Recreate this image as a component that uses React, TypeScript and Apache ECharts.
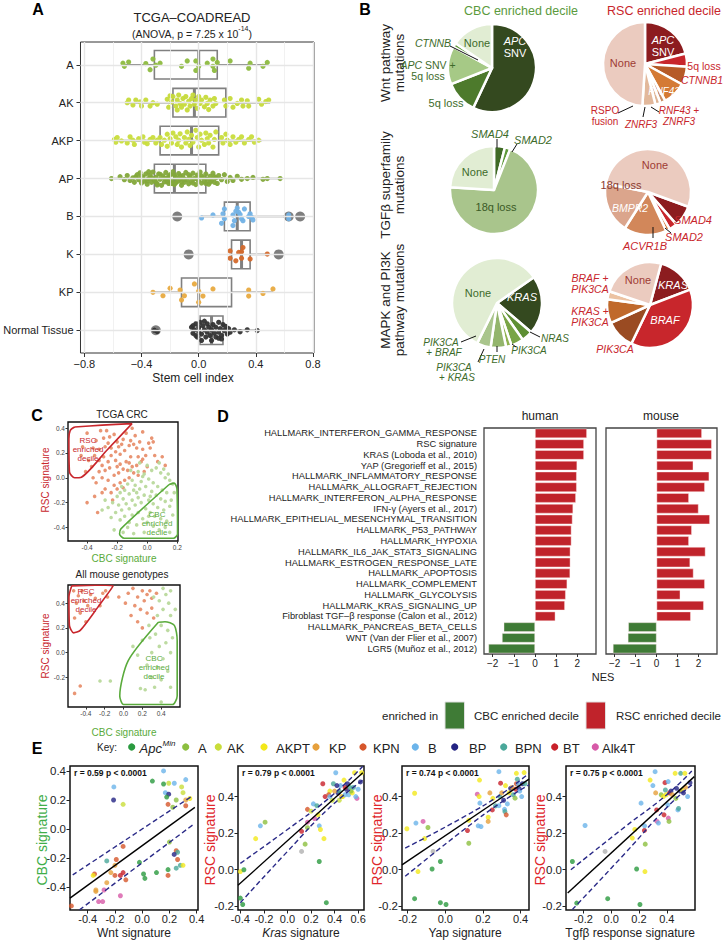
import { useEffect, useRef } from 'react';
import * as echarts from 'echarts';

const F = '"Liberation Sans", Arial, Helvetica, sans-serif';
const MINUS = '\u2212';

// ---------------- Panel A data ----------------
const groupsA = ['A', 'AK', 'AKP', 'AP', 'B', 'K', 'KP', 'Normal Tissue'];
const colorsA = ['#8dbb3f', '#c6da3a', '#c9dd3c', '#83a83a', '#72b2e6', '#d4692b', '#e8aa40', '#333333'];
const q1A = [-0.31, -0.18, -0.27, -0.31, 0.18, 0.23, -0.12, 0.01];
const medA = [0.0, -0.03, -0.05, -0.17, 0.27, 0.3, 0.0, 0.09];
const q3A = [0.13, 0.19, 0.14, 0.05, 0.36, 0.36, 0.23, 0.17];
const loA = [-0.53, -0.5, -0.6, -0.61, 0.02, 0.23, -0.32, -0.05];
const hiA = [0.48, 0.5, 0.44, 0.57, 0.63, 0.48, 0.52, 0.41];
// points: [stem cell index, vertical jitter]
const ptsA0 = [[-0.53,-0.04],[-0.52,0.04],[-0.49,-0.07],[-0.37,-0.03],[-0.34,0.13],[-0.32,-0.15],[-0.3,0.01],[-0.27,-0.04],[-0.12,0.04],[-0.08,-0.1],[-0.02,-0.1],[-0.02,0.15],[0.0,0.04],[0.06,-0.04],[0.1,-0.15],[0.1,0.04],[0.11,0.15],[0.13,-0.06],[0.22,-0.1],[0.36,-0.04],[0.35,0.09],[0.45,0.04],[0.48,-0.06]];
const ptsA1 = [[-0.5,0.0],[-0.49,-0.07],[-0.46,0.06],[-0.44,-0.07],[-0.41,-0.02],[-0.4,0.09],[-0.37,-0.07],[-0.34,0.09],[-0.32,0.0],[-0.29,0.04],[-0.22,-0.09],[-0.21,0.12],[-0.2,-0.18],[-0.19,-0.02],[-0.18,-0.16],[-0.16,0.09],[-0.15,0.19],[-0.15,-0.07],[-0.14,-0.2],[-0.13,0.02],[-0.12,0.12],[-0.11,-0.11],[-0.1,0.04],[-0.09,-0.16],[-0.08,0.19],[-0.07,-0.04],[-0.06,0.09],[-0.05,-0.11],[-0.04,-0.2],[-0.03,0.04],[-0.02,-0.07],[-0.01,0.15],[0.0,-0.16],[0.01,0.02],[0.02,-0.07],[0.04,0.11],[0.05,-0.14],[0.06,0.02],[0.07,0.18],[0.08,-0.07],[0.1,0.09],[0.11,-0.11],[0.12,0.02],[0.18,-0.07],[0.19,0.09],[0.22,-0.11],[0.24,0.12],[0.27,0.02],[0.3,-0.07],[0.31,0.09],[0.34,-0.05],[0.35,0.09],[0.42,-0.09],[0.44,0.04],[0.47,-0.03],[0.49,-0.07]];
const ptsA2 = [[-0.59,-0.03],[-0.58,0.04],[-0.57,-0.08],[-0.54,0.01],[-0.5,0.06],[-0.48,-0.1],[-0.46,-0.01],[-0.45,0.1],[-0.42,-0.05],[-0.39,-0.1],[-0.38,0.04],[-0.36,0.08],[-0.34,-0.03],[-0.32,-0.08],[-0.3,0.06],[-0.29,-0.01],[-0.27,-0.08],[-0.26,0.1],[-0.24,-0.01],[-0.22,-0.17],[-0.22,0.15],[-0.2,-0.05],[-0.19,0.06],[-0.18,-0.2],[-0.16,-0.1],[-0.15,0.1],[-0.14,-0.01],[-0.13,-0.18],[-0.12,0.17],[-0.1,-0.08],[-0.09,0.06],[-0.08,-0.23],[-0.07,-0.03],[-0.06,0.13],[-0.05,-0.14],[-0.04,0.04],[-0.02,-0.27],[-0.01,-0.08],[0.0,0.17],[0.01,-0.17],[0.02,-0.01],[0.04,0.1],[0.05,-0.2],[0.06,-0.05],[0.07,0.06],[0.08,-0.14],[0.1,0.17],[0.11,-0.03],[0.12,-0.23],[0.16,-0.08],[0.17,0.06],[0.19,-0.17],[0.2,-0.01],[0.22,0.1],[0.24,-0.1],[0.26,0.04],[0.28,-0.03],[0.3,-0.1],[0.32,0.06],[0.35,-0.03],[0.37,-0.1],[0.39,0.04],[0.42,-0.01]];
const ptsA3 = [[-0.61,0.0],[-0.55,-0.05],[-0.52,0.03],[-0.5,-0.08],[-0.48,0.05],[-0.46,-0.02],[-0.45,0.1],[-0.43,-0.1],[-0.42,0.03],[-0.41,-0.15],[-0.4,0.12],[-0.39,-0.04],[-0.38,0.07],[-0.37,-0.12],[-0.36,0.15],[-0.35,0.0],[-0.34,-0.08],[-0.33,0.1],[-0.32,-0.17],[-0.31,0.05],[-0.3,-0.03],[-0.29,0.14],[-0.28,-0.12],[-0.27,0.02],[-0.26,0.18],[-0.25,-0.07],[-0.24,0.09],[-0.23,-0.16],[-0.22,0.0],[-0.21,0.13],[-0.2,-0.1],[-0.19,0.05],[-0.18,-0.18],[-0.17,0.16],[-0.16,-0.03],[-0.15,0.08],[-0.14,-0.13],[-0.13,0.02],[-0.12,0.18],[-0.11,-0.08],[-0.1,0.1],[-0.09,-0.16],[-0.08,0.03],[-0.07,0.14],[-0.06,-0.06],[-0.05,0.07],[-0.04,-0.14],[-0.03,0.0],[-0.02,0.16],[-0.01,-0.09],[0.0,0.06],[0.01,-0.17],[0.02,0.12],[0.03,-0.02],[0.04,0.08],[0.05,-0.12],[0.06,0.02],[0.07,0.15],[0.08,-0.06],[0.09,0.05],[0.1,-0.14],[0.11,0.1],[0.12,-0.02],[0.13,0.13],[0.14,-0.08],[0.16,0.03],[0.18,-0.1],[0.2,0.08],[0.22,-0.03],[0.24,0.05],[0.27,-0.06],[0.3,0.02],[0.34,0.0],[0.38,-0.03],[0.45,0.02],[0.48,0.0],[0.57,0.0],[-0.44,-0.05],[-0.4,-0.06],[-0.36,0.06],[-0.33,-0.02],[-0.3,0.09],[-0.27,-0.11],[-0.24,-0.01],[-0.21,-0.06],[-0.19,0.13],[-0.16,0.11],[-0.13,-0.07],[-0.1,0.02],[-0.07,-0.1],[-0.04,0.12],[-0.01,0.02],[0.02,-0.07],[0.05,0.13],[0.08,0.1],[0.11,-0.05],[-0.22,0.08],[-0.35,-0.18],[-0.29,0.17],[-0.12,0.09],[0.0,-0.04],[-0.17,-0.09]];
const ptsA4 = [[0.02,0.04],[0.1,-0.04],[0.17,-0.07],[0.16,0.18],[0.18,-0.2],[0.18,0.06],[0.24,-0.04],[0.25,0.11],[0.26,-0.14],[0.28,-0.11],[0.29,-0.05],[0.3,0.06],[0.31,0.11],[0.32,-0.2],[0.35,0.0],[0.36,-0.07],[0.37,0.02],[0.38,0.09],[0.27,-0.22],[0.24,0.24],[0.63,-0.04],[0.63,0.06]];
const ptsA5 = [[0.22,-0.09],[0.22,0.1],[0.26,0.17],[0.28,-0.05],[0.3,-0.07],[0.3,0.1],[0.31,-0.18],[0.36,0.12],[0.48,-0.01]];
const ptsA6 = [[-0.32,0.0],[-0.25,0.09],[-0.2,-0.11],[-0.13,-0.06],[-0.12,0.2],[-0.1,0.09],[-0.03,-0.22],[0.0,-0.03],[0.0,0.26],[0.03,0.1],[0.1,-0.09],[0.35,-0.06],[0.35,0.1],[0.45,0.03],[0.52,-0.09]];
const ptsA7 = [[-0.05,-0.08],[-0.04,0.08],[-0.03,-0.01],[-0.02,-0.17],[-0.02,0.14],[0.0,-0.08],[0.0,0.03],[0.01,-0.21],[0.02,0.1],[0.03,-0.12],[0.04,-0.01],[0.05,0.18],[0.06,-0.17],[0.06,0.05],[0.07,-0.08],[0.08,0.14],[0.09,-0.01],[0.1,-0.15],[0.11,0.08],[0.12,0.18],[0.12,-0.08],[0.14,-0.21],[0.14,0.05],[0.15,-0.04],[0.16,0.14],[0.17,-0.15],[0.18,0.01],[0.19,-0.1],[0.2,0.1],[0.21,-0.04],[0.22,0.05],[0.25,-0.01],[0.29,0.04],[0.34,-0.01],[0.41,0.01],[0.02,0.27],[-0.01,0.18],[0.14,0.21],[0.04,-0.24],[0.09,0.27],[-0.04,-0.12],[0.16,0.23],[-0.31,0.0],[-0.29,0.03]];
const ptsA = [ptsA0, ptsA1, ptsA2, ptsA3, ptsA4, ptsA5, ptsA6, ptsA7];
// outliers: [group, value]
const outA = [[4, -0.15], [4, 0.63], [4, 0.71], [5, -0.07], [5, 0.56], [7, -0.3]];

// ---------------- Panel B data ----------------
const wntCbcNames = ['APC SNV', '5q loss', 'APC SNV + 5q loss', 'CTNNB', 'None'];
const wntCbcVals = [57, 12, 14, 1.5, 15.5];
const wntRscNames = ['APC SNV', '5q loss', 'CTNNB1', 'RNF43', 'RNF43 + ZNRF3', 'ZNRF3', 'RSPO fusion', 'None'];
const wntRscVals = [21, 5, 7, 9, 2, 2, 5, 49];
const tgfCbcNames = ['SMAD4', 'SMAD2', '18q loss', 'None'];
const tgfCbcVals = [4, 2, 70, 24];
const tgfRscNames = ['SMAD4', 'SMAD2', 'ACVR1B', 'BMPR2', '18q loss', 'None'];
const tgfRscVals = [8, 3, 1.5, 16, 19, 52.5];
const mapkCbcNames = ['KRAS', 'NRAS', 'PIK3CA', 'PTEN', 'PIK3CA + KRAS', 'PIK3CA + BRAF', 'None'];
const mapkCbcVals = [21, 4, 4.5, 2, 5.5, 5, 58];
const mapkRscNames = ['KRAS', 'BRAF', 'PIK3CA', 'KRAS + PIK3CA', 'BRAF + PIK3CA', 'None'];
const mapkRscVals = [15, 38, 11, 9, 3, 24];

// ---------------- Panel C data ----------------
const c1Rsc = [[-0.4,0.36],[-0.34,0.3],[-0.31,0.38],[-0.29,0.32],[-0.27,0.38],[-0.25,0.33],[-0.22,0.35],[-0.2,0.29],[-0.24,0.24],[-0.28,0.25],[-0.32,0.23],[-0.35,0.18],[-0.39,0.14],[-0.37,0.09],[-0.32,0.14],[-0.29,0.17],[-0.24,0.18],[-0.21,0.14],[-0.18,0.19],[-0.15,0.22],[-0.12,0.26],[-0.17,0.27],[-0.11,0.3],[-0.09,0.27],[-0.05,0.29],[-0.07,0.24],[-0.03,0.23],[-0.01,0.18],[0.03,0.32],[0.04,0.29],[0.02,0.24],[-0.06,0.17],[-0.11,0.17],[-0.14,0.13],[-0.18,0.11],[-0.2,0.09],[-0.25,0.08],[-0.28,0.06],[-0.32,0.05],[-0.36,0.0],[-0.34,-0.04],[-0.3,0.0],[-0.26,-0.02],[-0.22,0.02],[-0.19,0.04],[-0.16,0.07],[-0.13,0.06],[-0.1,0.09],[-0.07,0.1],[-0.04,0.13],[0.0,0.09],[0.05,0.18],[0.07,0.13],[0.1,0.17],[0.12,0.1],[-0.02,0.05],[-0.12,0.0],[-0.15,-0.02],[-0.18,-0.04],[-0.22,-0.06],[-0.28,-0.09],[-0.24,-0.12],[-0.2,-0.09],[-0.16,-0.08],[-0.4,-0.2],[-0.33,-0.28],[-0.3,-0.12],[-0.23,-0.18],[-0.35,-0.15],[-0.09,0.04],[-0.06,0.02],[-0.26,0.13],[-0.3,0.1],[-0.21,0.21],[-0.16,0.31],[-0.14,0.36],[-0.1,0.4],[-0.03,0.37],[-0.08,0.34],[-0.19,0.25],[-0.26,0.28],[-0.12,0.12],[-0.03,0.15],[0.01,0.28],[-0.43,0.25],[-0.36,0.24],[-0.44,0.18],[-0.41,0.05]];
const c1Cbc = [[-0.05,0.12],[0.0,0.1],[0.03,0.06],[0.06,0.08],[0.09,0.04],[0.12,0.0],[0.15,-0.02],[0.17,-0.05],[-0.02,0.03],[-0.06,0.05],[-0.1,-0.02],[-0.13,-0.05],[-0.08,-0.06],[-0.04,-0.03],[0.01,-0.01],[0.04,-0.04],[0.07,-0.07],[0.1,-0.1],[0.13,-0.12],[-0.15,-0.1],[-0.18,-0.12],[-0.2,-0.15],[-0.16,-0.17],[-0.12,-0.13],[-0.09,-0.1],[-0.05,-0.09],[-0.01,-0.07],[0.03,-0.11],[0.06,-0.14],[0.09,-0.17],[0.12,-0.19],[-0.23,-0.2],[-0.19,-0.22],[-0.14,-0.21],[-0.1,-0.18],[-0.06,-0.16],[-0.02,-0.14],[0.01,-0.18],[0.04,-0.21],[0.07,-0.24],[0.11,-0.26],[0.15,-0.23],[-0.26,-0.24],[-0.21,-0.28],[-0.17,-0.26],[-0.12,-0.25],[-0.08,-0.22],[-0.04,-0.2],[-0.01,-0.25],[0.02,-0.28],[0.05,-0.31],[0.09,-0.33],[0.13,-0.35],[-0.15,-0.31],[-0.1,-0.3],[-0.06,-0.28],[-0.03,-0.33],[0.0,-0.36],[0.04,-0.39],[0.08,-0.42],[0.12,-0.4],[-0.07,-0.38],[-0.12,-0.36],[-0.18,-0.34],[-0.22,-0.42],[-0.09,-0.45],[-0.02,-0.44],[0.15,-0.44],[0.17,-0.3],[-0.24,-0.32],[-0.28,-0.18],[-0.3,-0.26],[0.08,0.12],[0.11,0.07],[0.14,0.03],[-0.11,0.06],[-0.03,0.01],[0.02,-0.15],[-0.07,-0.12],[-0.17,-0.07],[0.18,-0.12],[0.16,-0.18],[-0.13,-0.4],[0.01,-0.31],[-0.16,-0.44]];
const c2Rsc = [[-0.53,0.5],[-0.48,0.46],[-0.44,0.5],[-0.5,0.4],[-0.42,0.42],[-0.46,0.32],[-0.38,0.38],[-0.52,0.28],[-0.35,0.47],[-0.3,0.44],[-0.22,0.48],[-0.19,0.5],[-0.17,0.45],[-0.25,0.38],[-0.4,0.25],[-0.52,-0.33],[-0.46,-0.27],[0.05,0.48],[0.1,0.52],[0.15,0.45],[0.2,0.5],[0.25,0.47],[0.22,0.42],[0.28,0.5],[0.3,0.44],[0.35,0.48],[0.12,0.38],[0.18,0.35],[0.25,0.32],[0.08,0.3],[0.3,0.36],[0.15,0.25],[0.02,0.4],[-0.05,0.45],[0.32,0.28],[0.2,0.2]];
const c2Cbc = [[0.42,0.52],[0.45,0.47],[0.5,0.5],[0.38,0.42],[0.48,0.4],[0.42,0.35],[0.36,0.3],[0.5,0.3],[0.4,0.22],[0.47,0.18],[0.34,0.15],[0.45,0.08],[0.38,0.05],[0.5,0.0],[0.42,-0.05],[0.3,0.0],[0.36,-0.12],[0.47,-0.15],[0.25,-0.1],[0.4,-0.22],[0.3,-0.2],[0.5,-0.28],[0.18,-0.29],[0.23,-0.3],[0.33,-0.28],[0.4,-0.4],[-0.25,-0.23],[-0.14,-0.23],[0.2,0.1],[0.28,0.12],[0.15,-0.02],[0.1,0.05],[0.52,0.12],[0.55,0.35],[0.32,0.45],[0.27,0.22]];
const c1RscOutline = [[-0.483,0.41],[-0.3,0.425],[-0.101,0.437],[-0.27,0.22],[-0.438,0.005],[-0.483,0.0],[-0.517,0.046],[-0.521,0.315],[-0.512,0.383],[-0.483,0.41]];
const c1CbcOutline = [[0.146,-0.054],[0.18,-0.043],[0.198,-0.089],[0.202,-0.453],[0.175,-0.488],[-0.153,-0.488],[-0.184,-0.453],[-0.175,-0.412],[0.146,-0.054]];
const c2RscOutline = [[-0.55,0.54],[-0.3,0.545],[-0.11,0.54],[-0.28,0.36],[-0.46,0.18],[-0.53,0.16],[-0.575,0.22],[-0.58,0.45],[-0.55,0.54]];
const c2CbcOutline = [[0.37,0.245],[0.44,0.25],[0.54,0.22],[0.57,0.1],[0.57,-0.35],[0.52,-0.42],[0.2,-0.42],[0.0,-0.42],[-0.04,-0.35],[0.05,-0.065],[0.37,0.245]];

// ---------------- Panel D data ----------------
const dLabels = ['HALLMARK_INTERFERON_GAMMA_RESPONSE','RSC signature','KRAS (Loboda et al., 2010)','YAP (Gregorieff et al., 2015)','HALLMARK_INFLAMMATORY_RESPONSE','HALLMARK_ALLOGRAFT_REJECTION','HALLMARK_INTERFERON_ALPHA_RESPONSE','IFN-\u03b3 (Ayers et al., 2017)','HALLMARK_EPITHELIAL_MESENCHYMAL_TRANSITION','HALLMARK_P53_PATHWAY','HALLMARK_HYPOXIA','HALLMARK_IL6_JAK_STAT3_SIGNALING','HALLMARK_ESTROGEN_RESPONSE_LATE','HALLMARK_APOPTOSIS','HALLMARK_COMPLEMENT','HALLMARK_GLYCOLYSIS','HALLMARK_KRAS_SIGNALING_UP','Fibroblast TGF\u2013\u03b2 response (Calon et al., 2012)','HALLMARK_PANCREAS_BETA_CELLS','WNT (Van der Flier et al., 2007)','LGR5 (Mu\u00f1oz et al., 2012)'];
const nesHuman = [2.45, 2.31, 2.31, 1.99, 1.97, 1.97, 1.93, 1.8, 1.77, 1.72, 1.72, 1.67, 1.67, 1.66, 1.52, 1.45, 1.41, 0.96, -1.48, -1.56, -2.2];
const nesMouse = [2.16, 2.63, 2.63, 1.75, 2.51, 2.3, 1.54, 2.0, 2.54, 1.68, 1.54, 2.33, 1.6, 1.76, 2.3, 1.13, 2.25, 1.63, -1.35, -1.37, -2.08];

// ---------------- Panel E data ----------------
const genotypes = ['ApcMin', 'A', 'AK', 'AKPT', 'KP', 'KPN', 'B', 'BP', 'BPN', 'BT', 'Alk4T', 'other'];
const genoColors = ['#2a9a3f', '#8cbf3f', '#c9dd3a', '#f3e81a', '#e6a03c', '#d6562b', '#6cb4ea', '#232383', '#4aa89a', '#c8202a', '#d75aa8', '#b0b0b0'];
// [x, y, genotype index]
const e1Pts = [[0.157,0.4,6],[0.075,0.33,0],[0.157,0.31,0],[0.195,0.315,2],[0.236,0.315,6],[0.32,0.34,6],[0.29,0.29,2],[0.17,0.25,6],[0.195,0.24,7],[0.18,0.22,0],[0.19,0.17,5],[0.225,0.15,1],[0.25,0.2,1],[0.3,0.25,2],[0.32,0.2,4],[0.35,0.21,3],[0.32,0.16,5],[-0.208,0.29,6],[-0.21,0.2,7],[-0.14,0.17,2],[0.2,-0.09,1],[-0.14,-0.12,5],[0.25,-0.15,5],[0.26,-0.16,8],[0.235,-0.175,7],[0.26,-0.21,5],[0.28,-0.25,8],[0.3,-0.25,3],[0.25,-0.27,8],[0.19,-0.28,0],[0.19,-0.32,5],[0.105,-0.3,0],[-0.02,-0.23,0],[0.01,-0.31,0],[0.02,-0.34,0],[-0.19,-0.21,5],[-0.26,-0.22,8],[-0.2,-0.25,4],[-0.2,-0.32,5],[-0.16,-0.32,9],[-0.14,-0.3,9],[-0.12,-0.35,5],[-0.23,-0.3,4],[-0.26,-0.37,4],[-0.35,-0.31,5],[-0.36,-0.32,3],[-0.34,-0.42,4],[-0.34,-0.43,4],[-0.28,-0.42,10],[-0.32,-0.5,10],[-0.29,-0.5,10],[-0.16,-0.46,10],[-0.52,-0.53,5]];
const e2Pts = [[-0.4,-0.01,3],[-0.37,0.0,0],[-0.4,-0.155,0],[-0.38,-0.19,0],[-0.23,0.24,6],[-0.19,0.26,1],[-0.27,0.17,3],[0.12,0.1,11],[0.15,0.14,1],[0.27,0.045,0],[0.33,-0.18,0],[0.12,0.21,9],[0.17,0.23,1],[0.17,0.26,10],[0.17,0.33,5],[0.22,0.36,6],[0.3,0.47,9],[0.27,0.24,6],[0.28,0.22,3],[0.31,0.17,3],[0.36,0.43,3],[0.39,0.47,8],[0.41,0.53,6],[0.43,0.42,7],[0.45,0.46,6],[0.46,0.4,4],[0.48,0.49,3],[0.5,0.44,7],[0.52,0.41,6],[0.53,0.45,8],[0.55,0.42,3],[0.57,0.53,3],[0.59,0.39,10],[0.6,0.44,6],[0.62,0.48,7],[0.63,0.53,3],[0.2,0.32,2],[0.25,0.35,8],[0.32,0.4,9],[0.35,0.41,5],[0.38,0.38,2],[0.4,0.43,4],[0.42,0.46,7],[0.44,0.43,8],[0.47,0.4,3],[0.49,0.45,9],[0.51,0.47,7],[0.54,0.43,1],[0.56,0.45,8],[0.26,0.3,3],[0.23,0.28,10],[0.36,0.4,6],[0.44,0.38,2],[0.49,0.41,6],[0.58,0.4,6]];
const e3Pts = [[-0.204,0.224,3],[-0.163,0.418,3],[-0.156,0.255,6],[-0.118,0.264,10],[-0.092,0.231,1],[-0.145,-0.01,3],[-0.163,-0.158,0],[-0.11,0.17,3],[-0.065,0.1,11],[-0.07,0.004,0],[-0.026,0.045,0],[-0.026,-0.18,0],[0.004,-0.19,0],[0.125,0.145,1],[0.118,0.214,9],[0.125,0.27,3],[0.17,0.413,10],[0.182,0.49,3],[0.18,0.4,3],[0.184,0.364,6],[0.175,0.24,6],[0.19,0.236,6],[0.228,0.287,3],[0.228,0.264,4],[0.237,0.42,4],[0.25,0.327,9],[0.253,0.39,3],[0.267,0.349,8],[0.285,0.35,6],[0.285,0.536,6],[0.29,0.4,8],[0.294,0.473,9],[0.3,0.42,4],[0.31,0.38,7],[0.315,0.33,6],[0.317,0.318,8],[0.32,0.46,3],[0.324,0.3,5],[0.33,0.36,6],[0.34,0.42,3],[0.347,0.445,7],[0.355,0.45,4],[0.362,0.41,8],[0.371,0.391,1],[0.375,0.44,9],[0.378,0.47,5],[0.378,0.527,3],[0.383,0.495,8],[0.388,0.47,6],[0.392,0.445,7],[0.396,0.43,6],[0.406,0.4,6],[0.41,0.47,7],[0.419,0.531,3],[0.424,0.47,8]];
const e4Pts = [[-0.279,0.045,0],[-0.248,-0.182,0],[-0.188,0.242,6],[-0.044,0.1,11],[-0.025,-0.158,0],[0.152,0.173,3],[0.183,0.004,0],[0.17,0.22,3],[0.207,-0.19,0],[0.215,0.364,6],[0.239,0.215,9],[0.24,0.24,6],[0.243,-0.01,3],[0.245,0.14,1],[0.28,0.49,3],[0.3,0.46,6],[0.316,0.536,6],[0.32,0.42,4],[0.327,0.327,9],[0.33,0.264,10],[0.34,0.255,6],[0.36,0.41,1],[0.376,0.4,3],[0.38,0.3,9],[0.387,0.476,9],[0.39,0.436,8],[0.395,0.41,3],[0.407,0.355,6],[0.41,0.482,6],[0.411,0.282,10],[0.416,0.264,1],[0.42,0.42,9],[0.43,0.43,7],[0.44,0.41,4],[0.46,0.527,3],[0.465,0.39,1],[0.47,0.445,7],[0.48,0.327,6],[0.485,0.335,8],[0.497,0.43,7],[0.5,0.527,8],[0.51,0.436,3],[0.52,0.42,7],[0.53,0.527,3],[0.535,0.45,4],[0.55,0.4,6],[0.567,0.476,7]];
const e1Fit = [[-0.53, -0.476], [0.387, 0.149]];
const e1Up = [[-0.51, -0.316], [0.0, 0.0], [0.37, 0.229]];
const e1Lo = [[-0.46, -0.557], [0.0, -0.233], [0.37, 0.027]];
const e2Fit = [[-0.42, -0.085], [0.64, 0.53]];
const e2Up = [[-0.4, 0.035], [0.0, 0.22], [0.35, 0.39], [0.64, 0.565]];
const e2Lo = [[-0.4, -0.18], [0.0, 0.1], [0.35, 0.335], [0.64, 0.49]];
const e3Fit = [[-0.23, 0.027], [0.445, 0.495]];
const e3Up = [[-0.213, 0.118], [0.1, 0.29], [0.3, 0.415], [0.445, 0.527]];
const e3Lo = [[-0.213, -0.036], [0.1, 0.22], [0.3, 0.37], [0.445, 0.464]];
const e4Fit = [[-0.313, -0.127], [0.598, 0.509]];
const e4Up = [[-0.29, 0.0], [0.1, 0.235], [0.4, 0.41], [0.58, 0.54]];
const e4Lo = [[-0.28, -0.218], [0.1, 0.09], [0.4, 0.34], [0.58, 0.464]];
const eStats = ['r = 0.59 p < 0.0001', 'r = 0.79 p < 0.0001', 'r = 0.74 p < 0.0001', 'r = 0.75 p < 0.0001'];

// ---------------- helpers ----------------
const fm = (v: number, d: number) => (v < -1e-9 ? MINUS : '') + Math.abs(v).toFixed(d);
const fh = (v: number, d: number) => (v < -1e-9 ? '-' : '') + Math.abs(v).toFixed(d);
const noLine = { show: false, onZero: false };

function txt(x: number, y: number, text: string, o: any = {}) {
  const style: any = {
    text, fill: o.fill || '#222', fontSize: o.size || 11, fontFamily: F,
    fontStyle: o.italic ? 'italic' : 'normal', fontWeight: o.bold ? 'bold' : (o.weight || 'normal'),
    textAlign: o.align || 'center', textVerticalAlign: 'middle', align: o.align || 'center', verticalAlign: 'middle',
  };
  if (o.rich) style.rich = o.rich;
  return { type: 'text', x, y, rotation: o.rot || 0, silent: true, z: 100, style };
}
function ln(x1: number, y1: number, x2: number, y2: number, color = '#111', w = 1) {
  return { type: 'line', silent: true, z: 100, shape: { x1, y1, x2, y2 }, style: { stroke: color, lineWidth: w } };
}
const it = (c: string, s = 11) => ({ fontStyle: 'italic', fill: c, fontSize: s, fontFamily: F });

function buildOption() {
  const grids: any[] = [];
  const xAxes: any[] = [];
  const yAxes: any[] = [];
  const series: any[] = [];
  const g: any[] = [];

  // ---------- Panel A ----------
  grids.push({ left: 69, top: 42, width: 245, height: 311, show: true, borderColor: '#333', borderWidth: 1 });
  xAxes.push({
    gridIndex: 0, type: 'value', min: -0.827, max: 0.807, axisLine: noLine, splitLine: { show: false },
    axisTick: { show: true, length: 4, lineStyle: { color: '#333' }, customValues: [-0.8, -0.4, 0, 0.4, 0.8] },
    axisLabel: { customValues: [-0.8, -0.4, 0, 0.4, 0.8], formatter: (v: number) => fm(v, 1), fontSize: 11, color: '#222', fontFamily: F, margin: 5 },
  });
  yAxes.push({
    gridIndex: 0, type: 'value', min: -0.6, max: 7.6, inverse: true, axisLine: noLine, splitLine: { show: false },
    axisTick: { show: true, length: 4, lineStyle: { color: '#333' }, customValues: [0, 1, 2, 3, 4, 5, 6, 7] },
    axisLabel: { customValues: [0, 1, 2, 3, 4, 5, 6, 7], formatter: (v: number) => groupsA[Math.round(v)], fontSize: 11, color: '#222', fontFamily: F, margin: 7 },
  });
  const gridLinesA: any[] = [];
  [-0.8, -0.4, 0, 0.4, 0.8].forEach((v) => gridLinesA.push({ xAxis: v, lineStyle: { color: '#e6e6e6', width: 1.4, type: 'solid' } }));
  [-0.6, -0.2, 0.2, 0.6].forEach((v) => gridLinesA.push({ xAxis: v, lineStyle: { color: '#eeeeee', width: 0.8, type: 'solid' } }));
  groupsA.forEach((_, i) => gridLinesA.push({ yAxis: i, lineStyle: { color: '#e6e6e6', width: 1.4, type: 'solid' } }));
  series.push({
    type: 'scatter', xAxisIndex: 0, yAxisIndex: 0, data: [], z: 0,
    markLine: { silent: true, symbol: ['none', 'none'], label: { show: false }, animation: false, data: gridLinesA },
  });
  series.push({
    type: 'custom', xAxisIndex: 0, yAxisIndex: 0, z: 2,
    data: groupsA.map((_, i) => [i, loA[i], q1A[i], medA[i], q3A[i], hiA[i]]),
    encode: { x: [1, 2, 3, 4, 5], y: 0 },
    renderItem: (params: any, api: any) => {
      const i = api.value(0);
      const lo = api.coord([api.value(1), i]);
      const q1 = api.coord([api.value(2), i]);
      const md = api.coord([api.value(3), i]);
      const q3 = api.coord([api.value(4), i]);
      const hi = api.coord([api.value(5), i]);
      const h = Math.abs(api.size([0, 0.377])[1]);
      const cy = q1[1];
      const st = { stroke: '#808080', lineWidth: 1.6 };
      return {
        type: 'group', children: [
          { type: 'line', shape: { x1: lo[0], y1: cy, x2: q1[0], y2: cy }, style: st },
          { type: 'line', shape: { x1: q3[0], y1: cy, x2: hi[0], y2: cy }, style: st },
          { type: 'rect', shape: { x: q1[0], y: cy - h, width: q3[0] - q1[0], height: 2 * h }, style: { stroke: '#808080', lineWidth: 1.6, fill: '#ffffff' } },
          { type: 'line', shape: { x1: md[0], y1: cy - h, x2: md[0], y2: cy + h }, style: { stroke: '#808080', lineWidth: 3 } },
        ],
      };
    },
  });
  series.push({
    type: 'scatter', xAxisIndex: 0, yAxisIndex: 0, z: 3, symbolSize: 10,
    itemStyle: { color: '#707070', opacity: 0.9 },
    data: outA.map((o) => [o[1], o[0]]),
  });
  ptsA.forEach((pts, gi) => {
    series.push({
      type: 'scatter', xAxisIndex: 0, yAxisIndex: 0, z: 4, symbolSize: 5.2,
      itemStyle: { color: colorsA[gi], opacity: 0.95 },
      data: pts.map((p) => [p[0], gi + p[1]]),
    });
  });
  g.push(txt(38, 9, 'A', { size: 16, bold: true, fill: '#000' }));
  g.push(txt(192, 17, 'TCGA\u2013COADREAD', { size: 13 }));
  g.push(txt(192, 32, '{a|(ANOVA, p = 7.25 x 10}{b|-14}{a|)}', {
    size: 10.5, rich: { a: { fontSize: 10.5, fontFamily: F, fill: '#222', lineHeight: 14, verticalAlign: 'bottom' }, b: { fontSize: 7, fontFamily: F, fill: '#222', lineHeight: 14, verticalAlign: 'top' } },
  }));
  g.push(txt(193, 378, 'Stem cell index', { size: 12 }));

  // ---------- Panel B ----------
  const pie = (names: string[], vals: number[], colors: string[], cx: number, cy: number, r: number, start: number) => ({
    type: 'pie', center: [cx, cy], radius: [0, r], startAngle: start, clockwise: true, silent: true,
    label: { show: false }, labelLine: { show: false },
    itemStyle: { borderColor: '#ffffff', borderWidth: 2.5 },
    data: names.map((n, i) => ({ name: n, value: vals[i], itemStyle: { color: colors[i] } })),
  });
  series.push(pie(wntCbcNames, wntCbcVals, ['#34491f', '#4d7a2c', '#a6c986', '#5f9b3c', '#e1edd3'], 492, 68, 44, 90));
  series.push(pie(wntRscNames, wntRscVals, ['#8c1c1f', '#c8262c', '#b65b28', '#d47a35', '#c98e63', '#ddb393', '#e2b89b', '#ebcbbf'], 645, 64, 42, 90));
  series.push(pie(tgfCbcNames, tgfCbcVals, ['#3f6a25', '#5e9a3a', '#a9c58c', '#e1edd3'], 494, 190, 44, 90));
  series.push(pie(tgfRscNames, tgfRscVals, ['#8c1c1f', '#c8262c', '#d47a35', '#d2875a', '#dba58c', '#ebcbbf'], 648, 192, 43, -20));
  series.push(pie(mapkCbcNames, mapkCbcVals, ['#34491f', '#5e8f33', '#79a545', '#8fb24f', '#93b56c', '#a9c58c', '#e1edd3'], 497, 303, 45, 35));
  series.push(pie(mapkRscNames, mapkRscVals, ['#8c1c1f', '#c8262c', '#9a4b22', '#c0692b', '#ecc3a3', '#ebcbbf'], 650, 305, 43, 75));

  const GR = '#3d6b2a', RD = '#c8262c', NR = '#9e3b33';
  g.push(txt(365, 9, 'B', { size: 16, bold: true, fill: '#000' }));
  g.push(txt(521, 11, 'CBC enriched decile', { size: 12.5, fill: '#5b9a3d' }));
  g.push(txt(664, 11, 'RSC enriched decile', { size: 12.5, fill: '#c8262c' }));
  g.push(txt(385, 63, 'Wnt pathway', { size: 13.5, rot: Math.PI / 2 }));
  g.push(txt(399, 63, 'mutations', { size: 13.5, rot: Math.PI / 2 }));
  g.push(txt(385, 185, 'TGF\u03b2 superfamily', { size: 13.5, rot: Math.PI / 2 }));
  g.push(txt(399, 185, 'mutations', { size: 13.5, rot: Math.PI / 2 }));
  g.push(txt(385, 300, 'MAPK and PI3K', { size: 13.5, rot: Math.PI / 2 }));
  g.push(txt(399, 300, 'pathway mutations', { size: 13.5, rot: Math.PI / 2 }));
  // CBC Wnt labels
  g.push(txt(515, 41, 'APC', { fill: '#fff', italic: true }));
  g.push(txt(515, 53, 'SNV', { fill: '#fff' }));
  g.push(txt(477, 43, 'None', { fill: GR }));
  g.push(txt(433, 43, 'CTNNB', { fill: GR, italic: true, size: 10.5 }));
  g.push(ln(450, 46, 478, 60));
  g.push(txt(428, 65, '{i|APC} SNV +', { fill: GR, size: 10.5, rich: { i: it(GR, 10.5) } }));
  g.push(txt(428, 76, '5q loss', { fill: GR, size: 10.5 }));
  g.push(txt(446, 103, '5q loss', { fill: GR }));
  // RSC Wnt labels
  g.push(txt(663, 40, 'APC', { fill: '#fff', italic: true }));
  g.push(txt(663, 52, 'SNV', { fill: '#fff' }));
  g.push(txt(623, 63, 'None', { fill: NR }));
  g.push(txt(704, 66, '5q loss', { fill: RD, size: 10.5 }));
  g.push(txt(702, 80, 'CTNNB1', { fill: RD, italic: true, size: 10.5 }));
  g.push(txt(664, 91, 'RNF43', { fill: '#fff', italic: true, size: 10 }));
  g.push(txt(679, 110, 'RNF43 +', { fill: RD, italic: true, size: 10 }));
  g.push(txt(679, 121, 'ZNRF3', { fill: RD, italic: true, size: 10 }));
  g.push(txt(605, 110, 'RSPO', { fill: RD, size: 10 }));
  g.push(txt(605, 121, 'fusion', { fill: RD, size: 10 }));
  g.push(txt(641, 124, 'ZNRF3', { fill: RD, italic: true, size: 10 }));
  g.push(ln(618, 113, 633, 106));
  g.push(ln(645, 107, 643, 117));
  g.push(ln(651, 107, 659, 112));
  // CBC TGF labels
  g.push(txt(490, 134, 'SMAD4', { fill: GR, italic: true }));
  g.push(ln(497, 139, 497, 148));
  g.push(txt(533, 140, 'SMAD2', { fill: GR, italic: true }));
  g.push(ln(517, 144, 512, 152));
  g.push(txt(475, 172, 'None', { fill: GR }));
  g.push(txt(496, 207, '18q loss', { fill: '#3a5a26' }));
  // RSC TGF labels
  g.push(txt(655, 165, 'None', { fill: NR }));
  g.push(txt(621, 185, '18q loss', { fill: '#8a3a30' }));
  g.push(txt(630, 208, 'BMPR2', { fill: '#fff', italic: true, size: 10.5 }));
  g.push(txt(693, 220, 'SMAD4', { fill: RD, italic: true }));
  g.push(txt(684, 237, 'SMAD2', { fill: RD, italic: true }));
  g.push(ln(665, 228, 671, 233));
  g.push(txt(645, 246, 'ACVR1B', { fill: RD, italic: true }));
  g.push(ln(653, 227, 653, 238));
  // CBC MAPK labels
  g.push(txt(478, 293, 'None', { fill: GR }));
  g.push(txt(522, 297, 'KRAS', { fill: '#fff', italic: true }));
  g.push(txt(555, 338, 'NRAS', { fill: GR, italic: true, size: 10 }));
  g.push(ln(530, 332, 540, 337));
  g.push(txt(441, 342, 'PIK3CA', { fill: GR, italic: true, size: 10 }));
  g.push(txt(444, 352, '+ {i|BRAF}', { fill: GR, size: 10, rich: { i: it(GR, 10) } }));
  g.push(ln(461, 342, 476, 336));
  g.push(txt(454, 367, 'PIK3CA', { fill: GR, italic: true, size: 10 }));
  g.push(txt(457, 377, '+ {i|KRAS}', { fill: GR, size: 10, rich: { i: it(GR, 10) } }));
  g.push(ln(478, 362, 484, 349));
  g.push(txt(492, 359, 'PTEN', { fill: GR, italic: true, size: 10 }));
  g.push(ln(497, 352, 497, 346));
  g.push(txt(529, 350, 'PIK3CA', { fill: GR, italic: true, size: 10 }));
  g.push(ln(512, 344, 516, 347));
  // RSC MAPK labels
  g.push(txt(638, 280, 'None', { fill: NR }));
  g.push(txt(673, 285, 'KRAS', { fill: '#fff', italic: true }));
  g.push(txt(665, 320, 'BRAF', { fill: '#fff', italic: true }));
  g.push(txt(615, 349, 'PIK3CA', { fill: RD, italic: true, size: 10.5 }));
  g.push(txt(590, 311, '{i|KRAS} +', { fill: RD, size: 10.5, rich: { i: it(RD, 10.5) } }));
  g.push(txt(590, 322, 'PIK3CA', { fill: RD, italic: true, size: 10.5 }));
  g.push(txt(590, 278, '{i|BRAF} +', { fill: RD, size: 10.5, rich: { i: it(RD, 10.5) } }));
  g.push(txt(590, 289, 'PIK3CA', { fill: RD, italic: true, size: 10.5 }));

  // ---------- Panel C ----------
  const cAxis = (gi: number, min: number, max: number, vals: number[]) => ({
    gridIndex: gi, type: 'value', min, max, axisLine: noLine, splitLine: { show: false },
    axisTick: { show: true, length: 2.5, lineStyle: { color: '#333' }, customValues: vals },
    axisLabel: { customValues: vals, formatter: (v: number) => fh(v, 1), fontSize: 6.5, color: '#444', fontFamily: F, margin: 3 },
  });
  grids.push({ left: 68, top: 422, width: 110, height: 119, show: true, borderColor: '#111', borderWidth: 1.4 });
  xAxes.push(cAxis(1, -0.527, 0.205, [-0.4, -0.2, 0, 0.2]));
  yAxes.push(cAxis(1, -0.51, 0.45, [-0.4, -0.2, 0, 0.2, 0.4]));
  grids.push({ left: 68, top: 585, width: 112, height: 122, show: true, borderColor: '#111', borderWidth: 1.4 });
  xAxes.push(cAxis(2, -0.59, 0.6, [-0.4, -0.2, 0, 0.2, 0.4]));
  yAxes.push(cAxis(2, -0.44, 0.547, [-0.2, 0, 0.2, 0.4]));
  const cScatter = (gi: number, data: number[][], color: string) => ({
    type: 'scatter', xAxisIndex: gi, yAxisIndex: gi, symbolSize: 3.6, itemStyle: { color, opacity: 0.95 }, data, z: 2,
  });
  const cOutline = (gi: number, data: number[][], color: string) => ({
    type: 'line', xAxisIndex: gi, yAxisIndex: gi, data, smooth: 0.25, symbol: 'none', z: 3,
    lineStyle: { color, width: 1.6 }, silent: true,
  });
  series.push(cScatter(1, c1Rsc, '#e88f6d'));
  series.push(cScatter(1, c1Cbc, '#b9d99c'));
  series.push(cOutline(1, c1RscOutline, '#c8262c'));
  series.push(cOutline(1, c1CbcOutline, '#5aab3c'));
  series.push(cScatter(2, c2Rsc, '#e88f6d'));
  series.push(cScatter(2, c2Cbc, '#b9d99c'));
  series.push(cOutline(2, c2RscOutline, '#c8262c'));
  series.push(cOutline(2, c2CbcOutline, '#5aab3c'));
  g.push(txt(37, 415, 'C', { size: 16, bold: true, fill: '#000' }));
  g.push(txt(122, 414, 'TCGA CRC', { size: 10 }));
  g.push(txt(122, 574, 'All mouse genotypes', { size: 10 }));
  g.push(txt(45, 480, 'RSC signature', { size: 10, fill: '#c8262c', rot: Math.PI / 2 }));
  g.push(txt(45, 646, 'RSC signature', { size: 10, fill: '#c8262c', rot: Math.PI / 2 }));
  g.push(txt(124, 558, 'CBC signature', { size: 10, fill: '#5aab3c' }));
  g.push(txt(124, 732, 'CBC signature', { size: 10, fill: '#5aab3c' }));
  ['RSC', 'enriched', 'decile'].forEach((t, i) => g.push(txt(88, 440 + i * 9, t, { size: 8, fill: '#c8262c' })));
  ['CBC', 'enriched', 'decile'].forEach((t, i) => g.push(txt(157, 514 + i * 9, t, { size: 8, fill: '#5aab3c' })));
  ['RSC', 'enriched', 'decile'].forEach((t, i) => g.push(txt(86, 591 + i * 9, t, { size: 8, fill: '#c8262c' })));
  ['CBC', 'enriched', 'decile'].forEach((t, i) => g.push(txt(154, 658 + i * 9, t, { size: 8, fill: '#5aab3c' })));

  // ---------- Panel D ----------
  const dGrid = (left: number, width: number) => ({ left, top: 428, width, height: 226, show: true, borderColor: '#444', borderWidth: 1.3 });
  grids.push(dGrid(484, 112));
  grids.push(dGrid(606, 111));
  const dX = (gi: number) => ({
    gridIndex: gi, type: 'value', min: -2.41, max: 2.88, axisLine: noLine, splitLine: { show: false },
    axisTick: { show: true, length: 3, lineStyle: { color: '#333' }, customValues: [-2, -1, 0, 1, 2] },
    axisLabel: { customValues: [-2, -1, 0, 1, 2], formatter: (v: number) => fm(v, 0), fontSize: 10, color: '#222', fontFamily: F, margin: 4 },
  });
  xAxes.push(dX(3));
  xAxes.push(dX(4));
  yAxes.push({
    gridIndex: 3, type: 'category', data: dLabels, inverse: true, axisLine: noLine, axisTick: { show: false },
    axisLabel: { interval: 0, fontSize: 9.3, color: '#222', fontFamily: F, margin: 7 }, splitLine: { show: false },
  });
  yAxes.push({
    gridIndex: 4, type: 'category', data: dLabels, inverse: true, axisLine: noLine, axisTick: { show: false },
    axisLabel: { show: false }, splitLine: { show: false },
  });
  const dBar = (gi: number, vals: number[]) => ({
    type: 'bar', xAxisIndex: gi, yAxisIndex: gi, barCategoryGap: '12%', silent: true,
    data: vals.map((v) => ({ value: v, itemStyle: { color: v >= 0 ? '#c0232b' : '#3f7b36', borderColor: 'rgba(255,235,235,0.7)', borderWidth: 0.6 } })),
  });
  series.push(dBar(3, nesHuman));
  series.push(dBar(4, nesMouse));
  g.push(txt(223, 416, 'D', { size: 16, bold: true, fill: '#000' }));
  g.push(txt(540, 416, 'human', { size: 12 }));
  g.push(txt(661, 416, 'mouse', { size: 12 }));
  g.push(txt(603, 677, 'NES', { size: 11 }));
  g.push(txt(382, 716, 'enriched in', { size: 11.5, align: 'left' }));
  g.push({ type: 'rect', silent: true, z: 100, shape: { x: 445, y: 702, width: 19.5, height: 27 }, style: { fill: '#3f7b36', stroke: '#e0e0e0', lineWidth: 1 } });
  g.push(txt(474, 716, 'CBC enriched decile', { size: 11.5, align: 'left' }));
  g.push({ type: 'rect', silent: true, z: 100, shape: { x: 586, y: 702, width: 19.5, height: 27 }, style: { fill: '#c0232b', stroke: '#e0e0e0', lineWidth: 1 } });
  g.push(txt(616, 716, 'RSC enriched decile', { size: 11.5, align: 'left' }));

  // ---------- Panel E ----------
  const eCfg = [
    { left: 70, width: 128, xmin: -0.53, xmax: 0.41, ymin: -0.558, ymax: 0.434, xt: [-0.4, -0.2, 0, 0.2, 0.4], yt: [-0.4, -0.2, 0, 0.2, 0.4], pts: e1Pts, fit: e1Fit, up: e1Up, lo: e1Lo },
    { left: 238, width: 126, xmin: -0.42, xmax: 0.65, ymin: -0.22, ymax: 0.567, xt: [-0.4, -0.2, 0, 0.2, 0.4, 0.6], yt: [-0.2, 0, 0.2, 0.4], pts: e2Pts, fit: e2Fit, up: e2Up, lo: e2Lo },
    { left: 402, width: 127, xmin: -0.23, xmax: 0.445, ymin: -0.22, ymax: 0.567, xt: [-0.2, 0, 0.2, 0.4], yt: [-0.2, 0, 0.2, 0.4], pts: e3Pts, fit: e3Fit, up: e3Up, lo: e3Lo },
    { left: 566, width: 129, xmin: -0.325, xmax: 0.603, ymin: -0.22, ymax: 0.567, xt: [-0.2, 0, 0.2, 0.4], yt: [-0.2, 0, 0.2, 0.4], pts: e4Pts, fit: e4Fit, up: e4Up, lo: e4Lo },
  ];
  eCfg.forEach((c, k) => {
    const gi = 5 + k;
    grids.push({ left: c.left, top: 766, width: c.width, height: 144, show: true, borderColor: '#111', borderWidth: 1.5 });
    xAxes.push({
      gridIndex: gi, type: 'value', min: c.xmin, max: c.xmax, axisLine: noLine, splitLine: { show: false },
      axisTick: { show: true, length: 3.5, lineStyle: { color: '#222' }, customValues: c.xt },
      axisLabel: { customValues: c.xt, formatter: (v: number) => fh(v, 1), fontSize: 11, color: '#222', fontFamily: F, margin: 3 },
    });
    yAxes.push({
      gridIndex: gi, type: 'value', min: c.ymin, max: c.ymax, axisLine: noLine, splitLine: { show: false },
      axisTick: { show: true, length: 3.5, lineStyle: { color: '#222' }, customValues: c.yt },
      axisLabel: { customValues: c.yt, formatter: (v: number) => fh(v, 1), fontSize: 11.5, color: '#222', fontFamily: F, margin: 4 },
    });
    series.push({
      type: 'scatter', xAxisIndex: gi, yAxisIndex: gi, symbolSize: 5, z: 2,
      data: c.pts.map((p) => ({ value: [p[0], p[1]], itemStyle: { color: genoColors[p[2]] } })),
    });
    series.push({ type: 'line', xAxisIndex: gi, yAxisIndex: gi, data: c.fit, symbol: 'none', z: 3, silent: true, lineStyle: { color: '#000', width: 1.4 } });
    series.push({ type: 'line', xAxisIndex: gi, yAxisIndex: gi, data: c.up, symbol: 'none', smooth: true, z: 3, silent: true, lineStyle: { color: '#2b2b88', width: 1.4, type: [5, 3] } });
    series.push({ type: 'line', xAxisIndex: gi, yAxisIndex: gi, data: c.lo, symbol: 'none', smooth: true, z: 3, silent: true, lineStyle: { color: '#2b2b88', width: 1.4, type: [5, 3] } });
    g.push(txt(c.left + 4, 773, eStats[k], { size: 8.5, align: 'left', weight: 600, fill: '#111' }));
  });
  g.push(txt(37, 748, 'E', { size: 16, bold: true, fill: '#000' }));
  g.push(txt(42, 840, 'CBC signature', { size: 14, fill: '#3fae49', rot: Math.PI / 2 }));
  g.push(txt(210, 840, 'RSC signature', { size: 14, fill: '#e0262b', rot: Math.PI / 2 }));
  g.push(txt(377, 840, 'RSC signature', { size: 14, fill: '#e0262b', rot: Math.PI / 2 }));
  g.push(txt(540, 840, 'RSC signature', { size: 14, fill: '#e0262b', rot: Math.PI / 2 }));
  g.push(txt(134, 933, 'Wnt signature', { size: 12 }));
  g.push(txt(301, 933, '{i|Kras} signature', { size: 12, rich: { i: it('#222', 12) } }));
  g.push(txt(465, 933, 'Yap signature', { size: 12 }));
  g.push(txt(630, 933, 'Tgf\u03b2 response signature', { size: 12 }));
  // key
  g.push(txt(97, 747, 'Key:', { size: 10, align: 'left' }));
  const keyDots = [131.7, 185.7, 218.3, 264, 316, 363, 415.3, 454.7, 503.7, 554.7, 595.3];
  const keyTextX = [139.5, 198, 227, 276, 329, 373, 428, 469, 515, 563, 602];
  keyDots.forEach((x, i) => {
    g.push({ type: 'circle', silent: true, z: 100, shape: { cx: x, cy: 747, r: 3.6 }, style: { fill: genoColors[i] } });
    if (i === 0) {
      g.push(txt(keyTextX[i], 748, 'Apc', { size: 13, align: 'left', italic: true }));
      g.push(txt(keyTextX[i] + 23, 743, 'Min', { size: 8, align: 'left', italic: true }));
    } else {
      g.push(txt(keyTextX[i], 748, genotypes[i], { size: 13, align: 'left' }));
    }
  });

  return {
    animation: false,
    backgroundColor: '#ffffff',
    textStyle: { fontFamily: F },
    grid: grids,
    xAxis: xAxes,
    yAxis: yAxes,
    series,
    graphic: { elements: g },
  };
}

export default function App() {
  const ref = useRef<HTMLDivElement>(null);
  useEffect(() => {
    document.body.style.margin = '0';
    const chart = echarts.init(ref.current!, null, { renderer: 'svg' });
    chart.setOption(buildOption() as any);
    return () => chart.dispose();
  }, []);
  return <div ref={ref} style={{ width: 724, height: 940 }} />;
}
